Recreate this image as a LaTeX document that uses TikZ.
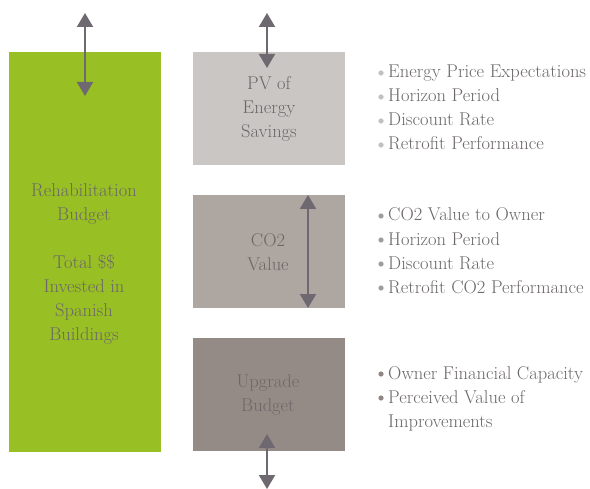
\documentclass[tikz,border=0pt]{standalone}
\usepackage{fontspec}
\usetikzlibrary{arrows.meta}
\definecolor{leaf}{HTML}{98BF24}
\definecolor{stoneA}{HTML}{CAC6C3}
\definecolor{stoneB}{HTML}{ADA6A1}
\definecolor{stoneC}{HTML}{958B86}
\definecolor{ink}{HTML}{6E6870}
\definecolor{txt}{HTML}{6C6768}
\definecolor{dotA}{HTML}{C4C0BD}
\definecolor{dotB}{HTML}{A39C98}
\definecolor{dotC}{HTML}{8F8783}
\begin{document}
\begin{tikzpicture}[x=1bp,y=-1bp,
  blockbox/.style={minimum width=152bp,inner sep=0pt,outer sep=0pt,anchor=north west},
  label/.style={text=txt,font=\fontsize{18.5bp}{24bp}\selectfont,align=center},
  item/.style={text=txt,font=\fontsize{18.5bp}{24bp}\selectfont,anchor=base west,inner sep=0pt},
  dbl/.style={draw=ink,line width=2bp,{Triangle[width=16bp,length=14bp]}-{Triangle[width=16bp,length=14bp]}}]
\useasboundingbox[fill=white] (0,0) rectangle (590,489);
% blocks
\node[blockbox,fill=leaf,minimum height=400bp] (rb) at (9,52) {};
\node[blockbox,fill=stoneA,minimum height=113bp] (pv) at (193,52) {};
\node[blockbox,fill=stoneB,minimum height=113bp] (co) at (193,195) {};
\node[blockbox,fill=stoneC,minimum height=113bp] (ub) at (193,338) {};
% block texts
\node[label] (rbt) at (84,264) {Rehabilitation\\Budget\\[24bp]Total \$\$\\Invested in\\Spanish\\Buildings};
\node[label] (pvt) at (269,109) {PV of\\Energy\\Savings};
\node[label] (cot) at (268,252) {CO2\\Value};
\node[label] (ubt) at (268,395) {Upgrade\\Budget};
% arrows
\coordinate (a1) at (85,13); \coordinate (a2) at (85,96);
\coordinate (b1) at (267,13); \coordinate (b2) at (267,68);
\coordinate (c1) at (308,195); \coordinate (c2) at (308,308);
\coordinate (d1) at (267,434); \coordinate (d2) at (267,489);
\draw[dbl] (a1) -- (a2);
\draw[dbl] (b1) -- (b2);
\draw[dbl] (c1) -- (c2);
\draw[dbl] (d1) -- (d2);
% factor lists
\foreach \t [count=\i] in {Energy Price Expectations,Horizon Period,Discount Rate,Retrofit Performance}{
  \fill[dotA] (381,{49+24*\i}) circle (2.6bp);
  \node[item] (pa\i) at (388,{54+24*\i}) {\t};
}
\foreach \t [count=\i] in {CO2 Value to Owner,Horizon Period,Discount Rate,Retrofit CO2 Performance}{
  \fill[dotB] (381,{192+24*\i}) circle (2.6bp);
  \node[item] (ca\i) at (388,{197+24*\i}) {\t};
}
\fill[dotC] (381,374) circle (2.6bp);
\node[item] (ua1) at (388,379) {Owner Financial Capacity};
\fill[dotC] (381,398) circle (2.6bp);
\node[item] (ua2) at (388,403) {Perceived Value of};
\node[item] (ua3) at (388,427) {Improvements};
\end{tikzpicture}
\end{document}
